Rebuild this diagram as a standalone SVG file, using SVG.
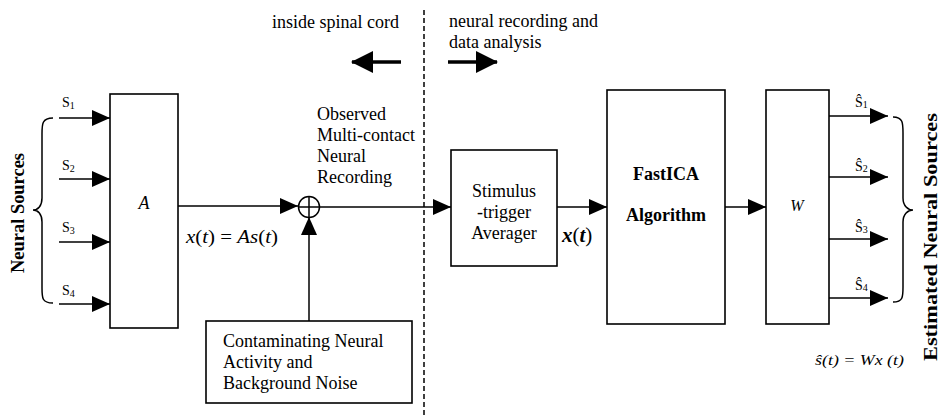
<svg xmlns="http://www.w3.org/2000/svg" width="940" height="416" viewBox="0 0 940 416" font-family="'Liberation Serif','Times New Roman',serif">
<defs>
<marker id="ah" markerUnits="userSpaceOnUse" markerWidth="18" markerHeight="16" refX="18" refY="8" orient="auto"><path d="M0,0 L18,8 L0,16 z" fill="#000"/></marker>
<marker id="bh" markerUnits="userSpaceOnUse" markerWidth="22" markerHeight="22" refX="21" refY="11" orient="auto"><path d="M0,0 L22,11 L0,22 z" fill="#000"/></marker>
<style>
text,tspan{font-family:"Liberation Serif","Times New Roman",serif;fill:#000}
.t{font-size:18px}
.s{font-size:14px}
.sub{font-size:10px}
.b{font-weight:bold}
.i{font-style:italic}
.box{fill:#fff;stroke:#000;stroke-width:1.6}
.ln{fill:none;stroke:#000;stroke-width:1.5}
.ar{fill:none;stroke:#000;stroke-width:1.5;marker-end:url(#ah)}
.big{fill:none;stroke:#000;stroke-width:3.5;marker-end:url(#bh)}
</style>
</defs>
<rect width="940" height="416" fill="#fff"/>

<g id="connectors">
<line class="ar" x1="59" y1="118" x2="110" y2="118"/>
<line class="ar" x1="59" y1="179" x2="110" y2="179"/>
<line class="ar" x1="59" y1="242" x2="110" y2="242"/>
<line class="ar" x1="59" y1="304" x2="110" y2="304"/>
<line class="ar" x1="178" y1="206" x2="298" y2="206"/>
<line class="ar" x1="309" y1="321" x2="309" y2="217"/>
<line class="ar" x1="320" y1="207" x2="451" y2="207"/>
<line class="ar" x1="557" y1="207" x2="607" y2="207"/>
<line class="ar" x1="725" y1="207" x2="766" y2="207"/>
<line class="ar" x1="829" y1="116" x2="888" y2="116"/>
<line class="ar" x1="829" y1="177" x2="888" y2="177"/>
<line class="ar" x1="829" y1="239" x2="888" y2="239"/>
<line class="ar" x1="829" y1="298" x2="888" y2="298"/>
<line class="big" x1="401" y1="62" x2="352" y2="62"/>
<line class="big" x1="448" y1="62" x2="497" y2="62"/>
<line x1="424" y1="10" x2="424" y2="416" stroke="#000" stroke-width="1.5" stroke-dasharray="5,3"/>
</g>

<g id="neural-sources">
<path class="ln" d="M53,118 C42,118 42,124 42,134 L42,198 C42,206 38,210 33,210 C38,210 42,214 42,222 L42,288 C42,298 42,303 53,303"/>
<text class="t b" transform="translate(24,213) rotate(-90)" text-anchor="middle" textLength="120" lengthAdjust="spacingAndGlyphs">Neural Sources</text>
<text class="s" x="62" y="107">S<tspan class="sub" dy="2">1</tspan></text>
<text class="s" x="62" y="170">S<tspan class="sub" dy="2">2</tspan></text>
<text class="s" x="62" y="232">S<tspan class="sub" dy="2">3</tspan></text>
<text class="s" x="62" y="295">S<tspan class="sub" dy="2">4</tspan></text>
</g>

<g id="mixing-A">
<rect class="box" x="110" y="94" width="68" height="234"/>
<text class="t i" x="144" y="209" text-anchor="middle">A</text>
</g>

<g id="mixing-eq">
<text class="t" x="186" y="243" textLength="92" lengthAdjust="spacingAndGlyphs"><tspan class="i">x</tspan>(<tspan class="i">t</tspan>) = <tspan class="i">As</tspan>(<tspan class="i">t</tspan>)</text>
</g>

<g id="sum">
<circle cx="309" cy="207" r="10.5" fill="#fff" stroke="#000" stroke-width="1.5"/>
<line class="ln" x1="298.5" y1="207" x2="319.5" y2="207"/>
<line class="ln" x1="309" y1="196.5" x2="309" y2="217.5"/>
</g>

<g id="observed-label">
<text class="t" x="317" y="120">Observed</text>
<text class="t" x="317" y="141">Multi-contact</text>
<text class="t" x="317" y="162">Neural</text>
<text class="t" x="317" y="183">Recording</text>
</g>

<g id="noise">
<rect class="box" x="206" y="321" width="206" height="82"/>
<text class="t" x="223" y="347">Contaminating Neural</text>
<text class="t" x="223" y="368">Activity and</text>
<text class="t" x="223" y="389">Background Noise</text>
</g>

<g id="region-labels">
<text class="t" x="272" y="28">inside spinal cord</text>
<text class="t" x="449" y="27">neural recording and</text>
<text class="t" x="449" y="48">data analysis</text>
</g>

<g id="averager">
<rect class="box" x="451" y="150" width="106" height="116"/>
<text class="t" x="504" y="197" text-anchor="middle">Stimulus</text>
<text class="t" x="504" y="218" text-anchor="middle">-trigger</text>
<text class="t" x="504" y="239" text-anchor="middle">Averager</text>
</g>

<g id="xt-label">
<text x="562" y="242" style="font-size:21px"><tspan class="b i">x</tspan>(<tspan class="b i">t</tspan>)</text>
</g>

<g id="fastica">
<rect class="box" x="607" y="90" width="118" height="234"/>
<text class="t b" x="666" y="180" text-anchor="middle">FastICA</text>
<text class="t b" x="666" y="221" text-anchor="middle">Algorithm</text>
</g>

<g id="unmixing-W">
<rect class="box" x="766" y="90" width="63" height="234"/>
<text class="i" x="797" y="211" text-anchor="middle" style="font-size:16px">W</text>
</g>

<g id="estimated-sources">
<text class="s" x="855" y="107">Ŝ<tspan class="sub" dy="1">1</tspan></text>
<text class="s" x="855" y="171">Ŝ<tspan class="sub" dy="1">2</tspan></text>
<text class="s" x="855" y="232">Ŝ<tspan class="sub" dy="1">3</tspan></text>
<text class="s" x="855" y="290">Ŝ<tspan class="sub" dy="1">4</tspan></text>
<path class="ln" d="M893,117 C903,117 903,123 903,133 L903,198 C903,206 908,210 913,210 C908,210 903,214 903,222 L903,287 C903,297 903,302 893,302"/>
<text class="t b" transform="translate(937,237) rotate(-90)" text-anchor="middle" textLength="248" lengthAdjust="spacingAndGlyphs">Estimated Neural Sources</text>
</g>

<g id="unmixing-eq">
<text class="s i" x="815" y="365" textLength="89" lengthAdjust="spacingAndGlyphs">ŝ(t) = Wx (t)</text>
</g>
</svg>
